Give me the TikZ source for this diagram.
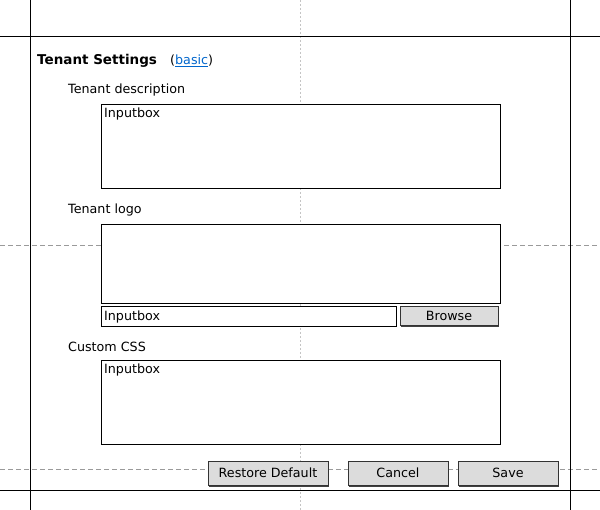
\documentclass[tikz,border=0pt]{standalone}
\usepackage{fontspec}
\setmainfont{DejaVu Sans}
\usetikzlibrary{shadows}
\definecolor{guide}{HTML}{9A9A9A}
\definecolor{guidelight}{HTML}{C4C4C4}
\definecolor{btnfill}{HTML}{DCDCDC}
\definecolor{linkblue}{HTML}{0066CC}
\tikzset{
  frame/.style={line width=1pt, black},
  guideh/.style={line width=1pt, guide, dash pattern=on 5pt off 3pt},
  guidev/.style={line width=1pt, guidelight, dash pattern=on 2pt off 2pt},
  inbox/.style={draw=black, line width=1pt, fill=white, rectangle, inner sep=0pt, anchor=north west},
  btn/.style={draw=black!80, line width=1pt, fill=btnfill, rectangle, inner sep=0pt, anchor=north west,
    general shadow={shadow xshift=1pt, shadow yshift=-1pt, fill=black!75}},
  txt/.style={inner sep=0pt, anchor=base west, font=\fontsize{12.7}{15}\selectfont},
  btntxt/.style={inner sep=0pt, anchor=base, font=\fontsize{12.7}{15}\selectfont},
  title/.style={inner sep=0pt, anchor=base west, font=\fontsize{13.5}{16}\selectfont\bfseries},
}
\begin{document}
\begin{tikzpicture}[x=1pt, y=-1pt]
\useasboundingbox (0,0) rectangle (600,510);
\fill[white] (0,0) rectangle (600,510);
% guide lines
\coordinate (vt) at (300,0); \coordinate (vb) at (300,510);
\coordinate (h1l) at (0,246); \coordinate (h1r) at (600,246);
\coordinate (h2l) at (0,469.5); \coordinate (h2r) at (600,469.5);
\draw[guidev] (vt) -- (vb);
\draw[guideh] (h1l) -- (h1r);
\draw[guideh] (h2l) -- (h2r);
% frame lines
\coordinate (l1t) at (30.5,0); \coordinate (l1b) at (30.5,510);
\coordinate (l2t) at (570.5,0); \coordinate (l2b) at (570.5,510);
\coordinate (t1l) at (0,36.5); \coordinate (t1r) at (600,36.5);
\coordinate (t2l) at (0,490.5); \coordinate (t2r) at (600,490.5);
\draw[frame] (l1t) -- (l1b);
\draw[frame] (l2t) -- (l2b);
\draw[frame] (t1l) -- (t1r);
\draw[frame] (t2l) -- (t2r);
% title
\node[title] (ttl) at (37,65) {Tenant Settings};
\node[txt] (lnk) at (170,65) {(\textcolor{linkblue}{\underline{basic}})};
% tenant description
\node[txt] (ldesc) at (68,94) {Tenant description};
\node[inbox, minimum width=399pt, minimum height=84pt] (desc) at (100.5,104.5) {};
\node[txt] (descin) at (104,118) {Inputbox};
% tenant logo
\node[txt] (llogo) at (68,214) {Tenant logo};
\node[inbox, minimum width=399pt, minimum height=79pt] (logo) at (100.5,224.5) {};
\node[inbox, minimum width=295pt, minimum height=20pt] (logoin) at (100.5,306.5) {};
\node[txt] (logointxt) at (104,321) {Inputbox};
\node[btn, minimum width=98pt, minimum height=19pt] (browse) at (399.5,306.5) {};
\node[btntxt] (browsetxt) at (browse.center |- 0,321) {Browse};
% custom css
\node[txt] (lcss) at (68,352) {Custom CSS};
\node[inbox, minimum width=399pt, minimum height=84pt] (css) at (100.5,360.5) {};
\node[txt] (cssin) at (104,374) {Inputbox};
% buttons
\node[btn, minimum width=120pt, minimum height=24pt] (restore) at (207.5,461.5) {};
\node[btntxt] (restoretxt) at (restore.center |- 0,478) {Restore Default};
\node[btn, minimum width=100pt, minimum height=24pt] (cancel) at (347.5,461.5) {};
\node[btntxt] (canceltxt) at (cancel.center |- 0,478) {Cancel};
\node[btn, minimum width=100pt, minimum height=24pt] (save) at (457.5,461.5) {};
\node[btntxt] (savetxt) at (save.center |- 0,478) {Save};
\end{tikzpicture}
\end{document}
